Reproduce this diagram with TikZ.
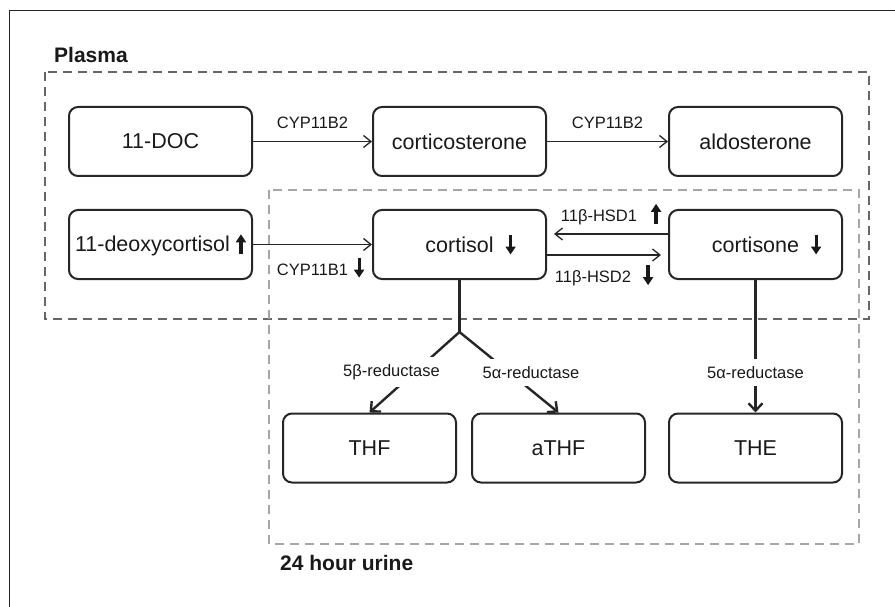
\documentclass[tikz,border=0pt]{standalone}
\usepackage{fontspec}
\setmainfont{Liberation Sans}
\usetikzlibrary{arrows.meta}

% bold up/down arrows next to the names
\newcommand{\arrup}{\tikz[x=1pt,y=1pt,baseline=0pt]\draw[black!90, line width=3.2pt, -{Triangle[length=8pt,width=10pt]}] (0,-2.5) -- (0,17.5);}
\newcommand{\arrdown}{\tikz[x=1pt,y=1pt,baseline=0pt]\draw[black!90, line width=3.2pt, -{Triangle[length=8pt,width=10pt]}] (0,17.5) -- (0,-2.5);}

\begin{document}
\begin{tikzpicture}[x=1pt, y=-1pt,
    box/.style={draw=black!85, line width=2pt, rounded corners=9pt, minimum width=173pt, minimum height=69pt, inner sep=0pt, text=black!90, font=\fontsize{21.5}{24}\selectfont},
    enz/.style={text=black!90, font=\fontsize{16.5}{19}\selectfont},
    compartment/.style={dashed, line width=1.5pt, dash pattern=on 9pt off 6pt},
    thinarr/.style={draw=black!85, line width=1.3pt, -{Straight Barb[length=7.5pt,width=12pt]}},
    thickarr/.style={draw=black!85, line width=2.4pt, -{Straight Barb[length=7.5pt,width=14pt]}},
    title/.style={text=black!90, font=\fontsize{21}{24}\bfseries\selectfont, inner sep=0pt}]
  \useasboundingbox (0,0) rectangle (895,607);
  \clip (0,0) rectangle (895,607);
  \draw[black!85, line width=1pt] (9,11) rectangle (905,620);

  % Compartments
  \draw[compartment, black!60] (45,72) rectangle (869,319);
  \draw[compartment, black!35] (269,190) rectangle (859,544);
  \node[title, anchor=base west] (plasma) at (54,63) {Plasma};
  \node[title, anchor=base west] (urine) at (280,570) {24 hour urine};

  % Nodes
  \node[box, minimum width=183pt] (doc) at (160.5,141.5) {11-DOC};
  \node[box] (corticosterone) at (459.5,141.5) {corticosterone};
  \node[box] (aldosterone) at (755.5,141.5) {aldosterone};
  \node[box, minimum width=183pt] (deoxy) at (160.5,244.5) {11-deoxycortisol\hspace{6pt}\arrup};
  \node[box] (cortisol) at (459.5,244.5) {cortisol\rlap{\hspace{12pt}\arrdown}};
  \node[box] (cortisone) at (755.5,244.5) {cortisone\rlap{\hspace{12pt}\arrdown}};
  \node[box] (thf) at (369.5,448) {THF};
  \node[box] (athf) at (558.5,448) {aTHF};
  \node[box] (the) at (755.5,448) {THE};
  \coordinate (fork) at (459.5,332);

  % Edges
  \path (doc) edge[thinarr] node[enz, above=9pt] {CYP11B2} (corticosterone);
  \path (corticosterone) edge[thinarr] node[enz, above=9pt] {CYP11B2} (aldosterone);
  \path (deoxy) edge[thinarr] node[enz, below=8pt, xshift=8pt] {CYP11B1\hspace{6pt}\arrdown} (cortisol);
  \path ([yshift=10.5pt]cortisone.west) edge[thinarr] node[enz, above=5pt] {11β-HSD1\hspace{14pt}\arrup} ([xshift=7pt,yshift=10.5pt]cortisol.east);
  \path ([yshift=-10.5pt]cortisol.east) edge[thinarr] node[enz, below=5pt] {11β-HSD2\hspace{12pt}\arrdown} ([xshift=-7pt,yshift=-10.5pt]cortisone.west);
  \draw[black!85, line width=2.4pt] (cortisol.south) -- (fork);
  \path (fork) edge[thickarr] node[enz, fill=white, inner ysep=7.5pt, xshift=-23pt] {5β-reductase} (thf.north);
  \path (fork) edge[thickarr] node[enz, fill=white, inner ysep=7.5pt, xshift=22pt] {5α-reductase} (athf.north);
  \path (cortisone.south) edge[thickarr] node[enz, fill=white, inner ysep=7.5pt, pos=0.7] {5α-reductase} (the.north);
\end{tikzpicture}
\end{document}
